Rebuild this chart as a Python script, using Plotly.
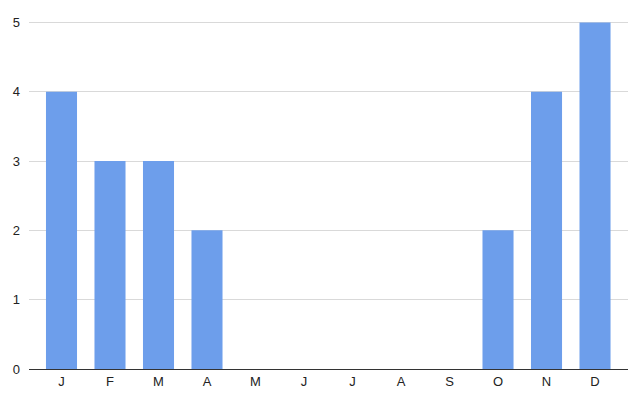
import plotly.graph_objects as go

months = ["J", "F", "M", "A", "M", "J", "J", "A", "S", "O", "N", "D"]
values = [4, 3, 3, 2, 0, 0, 0, 0, 0, 2, 4, 5]
y_ticks = [0, 1, 2, 3, 4, 5]

x_pos = list(range(len(months)))

fig = go.Figure(go.Bar(
    x=x_pos, y=values, marker=dict(color="#6d9eeb", line=dict(width=0)),
    width=0.64,
))

fig.update_layout(
    width=640, height=400,
    margin=dict(l=21, r=20, t=13, b=39),
    paper_bgcolor="white", plot_bgcolor="white",
    font=dict(family="Arial, Liberation Sans, sans-serif", size=13, color="#222222"),
    showlegend=False,
    xaxis=dict(
        tickmode="array", tickvals=x_pos, ticktext=months,
        range=[-0.67, 11.68], showgrid=False, zeroline=False,
        showline=False, ticks="", ticklabelstandoff=3, automargin=False,
    ),
    yaxis=dict(
        tickmode="array", tickvals=y_ticks, range=[0, 5.02],
        showgrid=True, gridcolor="#d9d9d9", gridwidth=1,
        zeroline=True, zerolinecolor="#333333", zerolinewidth=1.2,
        showline=False, ticks="", ticklabelstandoff=8, automargin=False,
    ),
)

fig.write_html("out.html")
